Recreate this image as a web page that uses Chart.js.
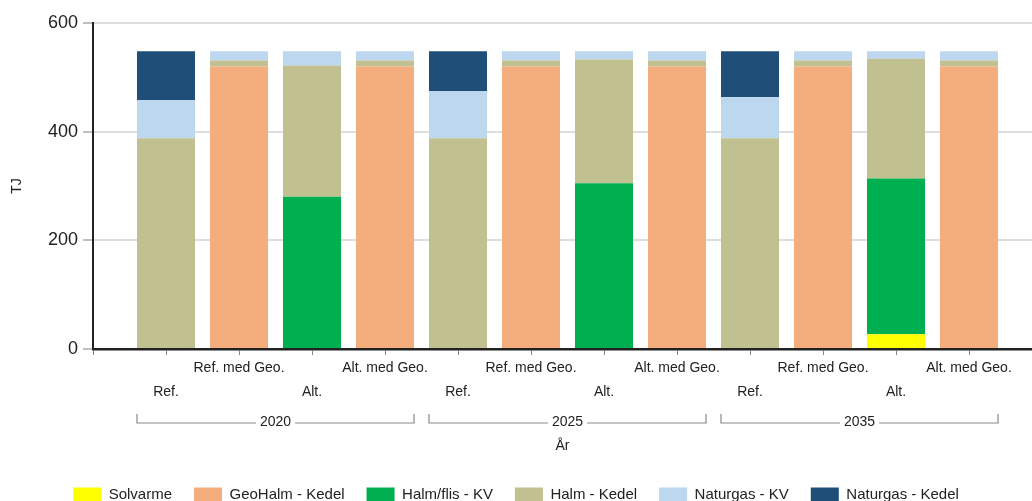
<!DOCTYPE html>
<html><head><meta charset="utf-8">
<script src="https://cdn.jsdelivr.net/npm/chart.js@4/dist/chart.umd.min.js"></script>
<style>html,body{margin:0;padding:0;overflow:hidden;background:#fff}#wrap{width:1032px;height:512px;position:relative}</style>
</head><body><div id="wrap"><canvas id="c"></canvas></div>
<script>
const categories = ['Ref.','Ref. med Geo.','Alt.','Alt. med Geo.','Ref.','Ref. med Geo.','Alt.','Alt. med Geo.','Ref.','Ref. med Geo.','Alt.','Alt. med Geo.'];
const years = ['2020','2025','2035'];
const solvarme      = [0,0,0,0, 0,0,0,0, 0,0,27,0];
const geoHalmKedel  = [0,520,0,520, 0,520,0,520, 0,520,0,520];
const halmFlisKV    = [0,0,280,0, 0,0,305,0, 0,0,287,0];
const halmKedel     = [388,11,242,11, 388,11,228,11, 388,11,220,11];
const naturgasKV    = [70,17,26,17, 87,17,15,17, 76,17,14,17];
const naturgasKedel = [90,0,0,0, 73,0,0,0, 84,0,0,0];
const yTicks = [0,200,400,600];

const FONT = "'Liberation Sans', Arial, sans-serif";
const toPts = arr => arr.map((v,i)=>({x:i+1,y:v}));
const mk = (label, data, color) => ({label, data: toPts(data), backgroundColor: color, borderWidth: 0, categoryPercentage: 1, barPercentage: 0.795});

const bracketPlugin = {
  id: 'brackets',
  afterDraw(chart) {
    const ctx = chart.ctx;
    const meta = chart.getDatasetMeta(0);
    const base = chart.chartArea.bottom;
    const yTop = base + 65, yLine = base + 74;
    ctx.save();
    ctx.font = '14px ' + FONT;
    ctx.textAlign = 'center';
    ctx.textBaseline = 'middle';
    years.forEach((yr, g) => {
      const b1 = meta.data[g*4], b4 = meta.data[g*4+3];
      const l = b1.x - b1.width/2, r = b4.x + b4.width/2;
      const c = (l + r) / 2;
      const tw = ctx.measureText(yr).width;
      ctx.strokeStyle = '#8a8a8a';
      ctx.lineWidth = 1.2;
      ctx.beginPath();
      ctx.moveTo(l, yTop); ctx.lineTo(l, yLine); ctx.lineTo(c - tw/2 - 4, yLine);
      ctx.moveTo(c + tw/2 + 4, yLine); ctx.lineTo(r, yLine); ctx.lineTo(r, yTop);
      ctx.stroke();
      ctx.fillStyle = '#222';
      ctx.fillText(yr, c, yLine - 0.5);
    });
    ctx.restore();
  }
};

new Chart(document.getElementById('c'), {
  type: 'bar',
  data: {
    datasets: [
      mk('Solvarme', solvarme, '#FFFF00'),
      mk('GeoHalm - Kedel', geoHalmKedel, '#F4AE7D'),
      mk('Halm/flis - KV', halmFlisKV, '#00B050'),
      mk('Halm - Kedel', halmKedel, '#C0C090'),
      mk('Naturgas - KV', naturgasKV, '#BDD7EE'),
      mk('Naturgas - Kedel', naturgasKedel, '#1F4E78')
    ]
  },
  options: {
    responsive: true,
    maintainAspectRatio: false,
    animation: false,
    layout: { padding: { top: 23, left: 0, right: 0, bottom: 0 } },
    plugins: {
      tooltip: { enabled: false },
      legend: {
        position: 'bottom',
        labels: { boxWidth: 28, boxHeight: 14, padding: 22, color: '#222', font: { size: 15, family: FONT } }
      }
    },
    scales: {
      x: {
        type: 'linear',
        stacked: true,
        offset: false,
        bounds: 'data',
        min: 0,
        max: 12.863,
        afterBuildTicks: s => { s.ticks = [0, ...categories.map((c,i)=>i+1)].map(v=>({value:v})); },
        afterFit: s => { s.height = 116; },
        ticks: {
          autoSkip: false, maxRotation: 0, minRotation: 0, padding: 1, includeBounds: false,
          color: '#222', font: { size: 14, family: FONT, lineHeight: 1.7 },
          callback: (v) => {
            if (v < 1 || v > categories.length) return '';
            const lab = categories[v-1];
            return (v-1) % 2 === 0 ? ['', lab] : [lab];
          }
        },
        grid: { offset: false, drawOnChartArea: false, drawTicks: true, tickLength: 6, tickColor: '#888', tickWidth: 1 },
        border: { display: true, color: '#222', width: 2.5 },
        title: { display: true, text: 'År', color: '#222', font: { size: 14, family: FONT }, padding: { top: 0, bottom: 10.5 } }
      },
      y: {
        stacked: true,
        min: 0,
        max: 600,
        afterBuildTicks: s => { s.ticks = yTicks.map(v=>({value:v})); },
        afterFit: s => { s.width = 93; },
        ticks: { padding: 5, color: '#222', font: { size: 18, family: FONT } },
        grid: { color: '#dedede', lineWidth: 2, tickLength: 10, tickColor: '#aaa', tickWidth: 1.5 },
        border: { display: true, color: '#222', width: 2 },
        title: { display: true, text: 'TJ', color: '#222', font: { size: 14, family: FONT }, padding: { top: 9, bottom: 0 } }
      }
    }
  },
  plugins: [bracketPlugin]
});
</script></body></html>
